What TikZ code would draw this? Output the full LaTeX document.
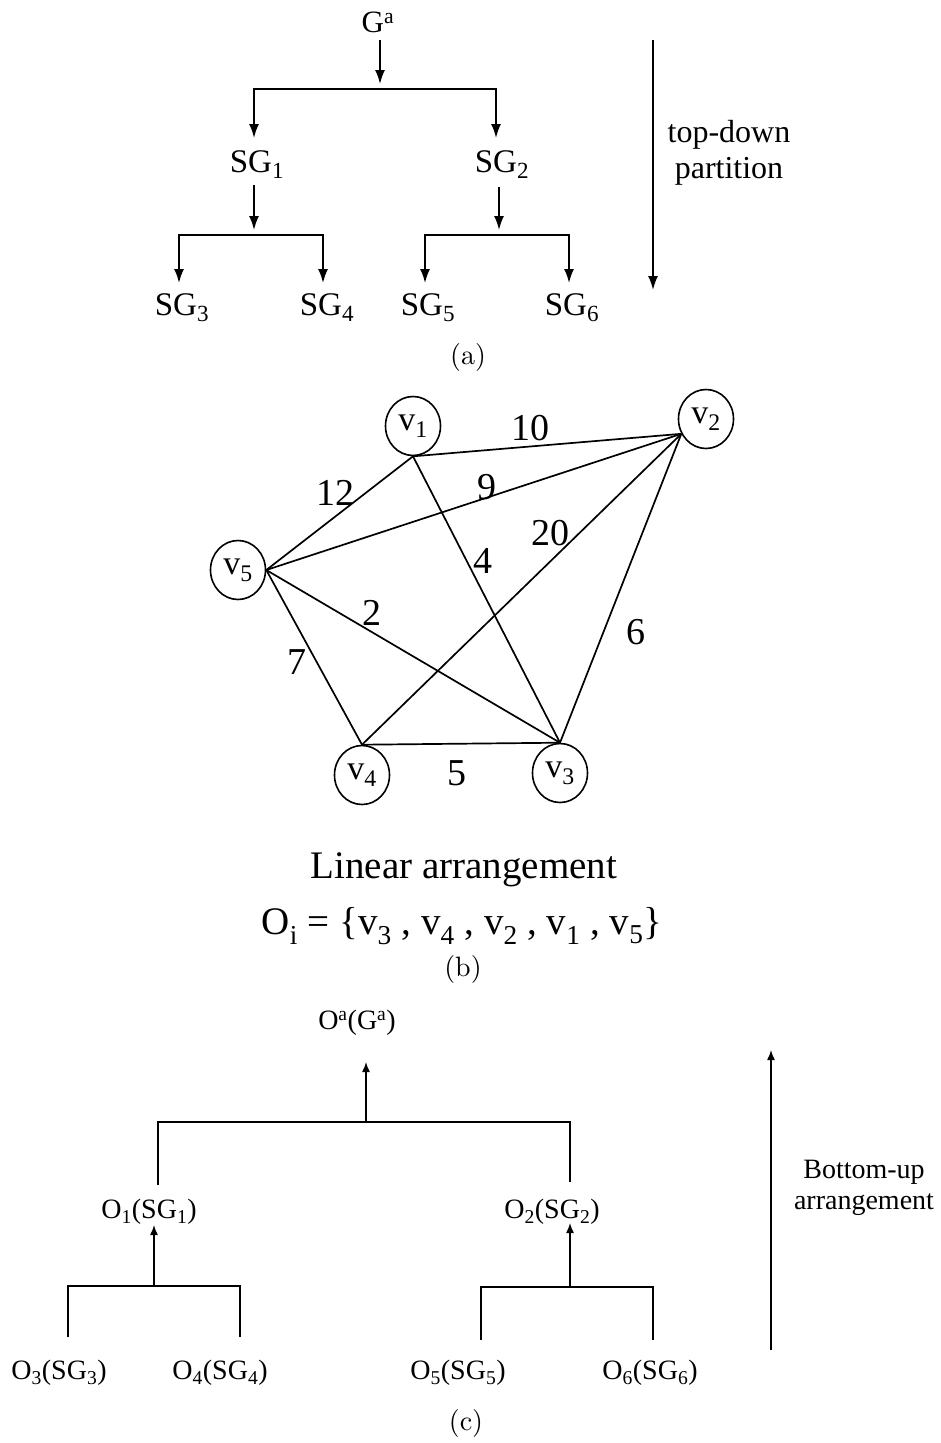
\documentclass[tikz,border=0pt]{standalone}
\usepackage{fontspec}
\setmainfont{Liberation Serif}
\newfontfamily\lmfont{lmroman10-regular.otf}
\usetikzlibrary{arrows.meta,shapes.geometric}
\newcommand{\lmcap}{\lmfont\fontsize{28}{32}\selectfont}
\begin{document}
\begin{tikzpicture}[x=1pt,y=-1pt,
  arrA/.style={-{Latex[length=14pt,width=10pt]}, line width=1.8pt},
  twoA/.style={{Latex[length=14pt,width=10pt]}-{Latex[length=14pt,width=10pt]}, line width=1.8pt},
  arrC/.style={-{Latex[length=10pt,width=8pt]}, line width=1.4pt},
  brC/.style={line width=1.4pt},
  ta/.style={inner sep=0pt, font=\fontsize{33}{38}\selectfont},
  tc/.style={inner sep=0pt, font=\fontsize{28}{32}\selectfont},
  vnode/.style={draw, ellipse, line width=1.6pt, minimum width=55pt, minimum height=59pt, inner sep=0pt, font=\fontsize{34}{38}\selectfont},
  gedge/.style={line width=1.7pt},
  wlbl/.style={inner sep=0pt, font=\fontsize{38}{42}\selectfont},
  captxt/.style={inner sep=0pt, font=\lmcap}
]
\useasboundingbox (0,0) rectangle (941,1443);

% ---------------- (a) ----------------
\node[ta, font=\fontsize{31}{36}\selectfont] (Ga) at (378,22) {G\textsuperscript{a}};
\coordinate (a0) at (380,40);
\coordinate (a0t) at (380,84);
\draw[arrA] (a0) -- (a0t);
\coordinate (b1) at (254,138);
\coordinate (b2) at (496,138);
\draw[twoA] (b1) -- (254,89) -- (496,89) -- (b2);

\node[ta, anchor=base] (SG1) at (257,172) {SG\textsubscript{1}};
\node[ta, anchor=base] (SG2) at (502,172) {SG\textsubscript{2}};

\coordinate (s1a) at (254,185);
\coordinate (s1b) at (254,230);
\draw[arrA] (s1a) -- (s1b);
\coordinate (s2a) at (499,187);
\coordinate (s2b) at (499,230);
\draw[arrA] (s2a) -- (s2b);

\coordinate (c3) at (179,283);
\coordinate (c4) at (323,283);
\draw[twoA] (c3) -- (179,235) -- (323,235) -- (c4);
\coordinate (c5) at (425,283);
\coordinate (c6) at (569,283);
\draw[twoA] (c5) -- (425,235) -- (569,235) -- (c6);

\node[ta, anchor=base] (SG3) at (182,315) {SG\textsubscript{3}};
\node[ta, anchor=base] (SG4) at (327,315) {SG\textsubscript{4}};
\node[ta, anchor=base] (SG5) at (428,315) {SG\textsubscript{5}};
\node[ta, anchor=base] (SG6) at (572,315) {SG\textsubscript{6}};

\coordinate (td0) at (653,40);
\coordinate (td1) at (653,290);
\draw[arrA] (td0) -- (td1);
\node[ta, font=\fontsize{32}{36}\selectfont, align=center] (td) at (729,153) {top-down\\partition};

\node[captxt] (capa) at (468,357) {(a)};

% ---------------- (b) ----------------
\node[vnode] (v1) at (413,426) {v\textsubscript{1}};
\node[vnode] (v2) at (706,419) {v\textsubscript{2}};
\node[vnode] (v5) at (238,570) {v\textsubscript{5}};
\node[vnode] (v4) at (362,775) {v\textsubscript{4}};
\node[vnode] (v3) at (560,773) {v\textsubscript{3}};

\coordinate (p1) at (v1.south);
\coordinate (p2) at (v2.211);
\coordinate (p5) at (v5.east);
\coordinate (p4) at (v4.north);
\coordinate (p3) at (v3.north);

\draw[gedge] (p1) -- (p2);
\draw[gedge] (p1) -- (p5);
\draw[gedge] (p1) -- (p3);
\draw[gedge] (p5) -- (p2);
\draw[gedge] (p4) -- (p2);
\draw[gedge] (p3) -- (p2);
\draw[gedge] (p5) -- (p4);
\draw[gedge] (p5) -- (p3);
\draw[gedge] (p4) -- (p3);

\node[wlbl] (w10) at (530,428) {10};
\node[wlbl] (w12) at (335,493) {12};
\node[wlbl] (w9) at (487,487) {9};
\node[wlbl] (w20) at (550,533) {20};
\node[wlbl] (w4) at (483,561) {4};
\node[wlbl] (w6) at (636,632) {6};
\node[wlbl] (w2) at (372,613) {2};
\node[wlbl] (w7) at (297,662) {7};
\node[wlbl] (w5) at (457,773) {5};

\node[inner sep=0pt, font=\fontsize{39}{44}\selectfont] (lin) at (464,870) {Linear arrangement};
\node[inner sep=0pt, font=\fontsize{39}{44}\selectfont] (oi) at (462,926) {O\textsubscript{i} = \{v\textsubscript{3} , v\textsubscript{4} , v\textsubscript{2} , v\textsubscript{1} , v\textsubscript{5}\}};
\node[captxt] (capb) at (463,969) {(b)};

% ---------------- (c) ----------------
\node[tc] (Oa) at (357,1023) {O\textsuperscript{a}(G\textsuperscript{a})};
\coordinate (ua) at (366,1122);
\coordinate (ut) at (366,1062);
\draw[arrC] (ua) -- (ut);
\coordinate (l1) at (158,1185);
\coordinate (r1) at (570,1182);
\draw[brC] (l1) -- (158,1122) -- (570,1122) -- (r1);

\node[tc] (O1) at (149,1212) {O\textsubscript{1}(SG\textsubscript{1})};
\node[tc] (O2) at (552,1212) {O\textsubscript{2}(SG\textsubscript{2})};

\coordinate (u1a) at (154,1286);
\coordinate (u1t) at (154,1225);
\draw[arrC] (u1a) -- (u1t);
\coordinate (l3) at (68,1337);
\coordinate (l4) at (240,1337);
\draw[brC] (l3) -- (68,1286) -- (240,1286) -- (l4);

\coordinate (u2a) at (570,1287);
\coordinate (u2t) at (570,1223);
\draw[arrC] (u2a) -- (u2t);
\coordinate (l5) at (481,1340);
\coordinate (l6) at (653,1340);
\draw[brC] (l5) -- (481,1287) -- (653,1287) -- (l6);

\node[tc] (O3) at (59,1373) {O\textsubscript{3}(SG\textsubscript{3})};
\node[tc] (O4) at (220,1373) {O\textsubscript{4}(SG\textsubscript{4})};
\node[tc] (O5) at (458,1373) {O\textsubscript{5}(SG\textsubscript{5})};
\node[tc] (O6) at (650,1373) {O\textsubscript{6}(SG\textsubscript{6})};

\coordinate (bu0) at (771,1350);
\coordinate (bu1) at (771,1050);
\draw[arrC] (bu0) -- (bu1);
\node[tc, align=center, font=\fontsize{28}{31}\selectfont] (bu) at (864,1188) {Bottom-up\\arrangement};

\node[captxt] (capc) at (466,1423) {(c)};
\end{tikzpicture}
\end{document}
